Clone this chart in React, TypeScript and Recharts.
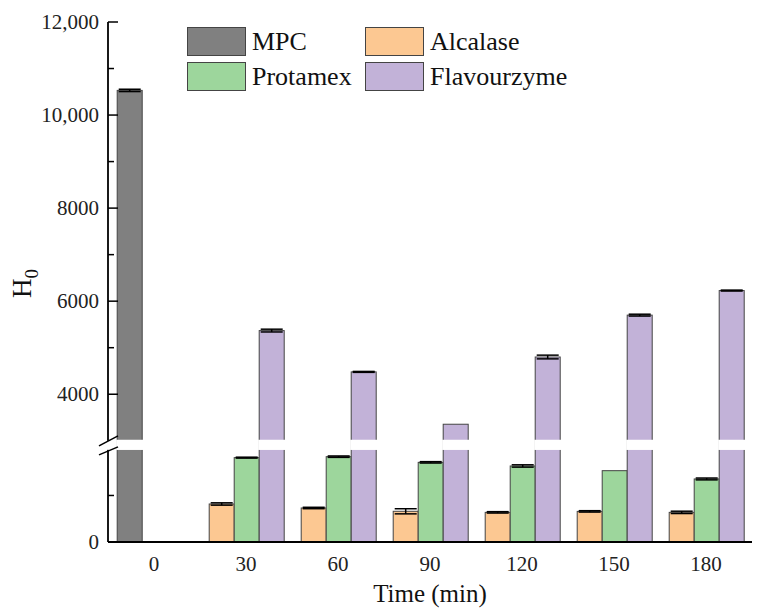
import React from 'react';
import { BarChart, Bar, XAxis, YAxis, Cell, ErrorBar, Legend } from 'recharts';

// hydrolysis time points
const TIMES = ['0', '30', '60', '90', '120', '150', '180'];

// H0 values (null = no bar at that time)
const MPC = [10530, null, null, null, null, null, null];
const MPC_ERR = [25, null, null, null, null, null, null];
const ALCALASE = [null, 817, 731, 660, 637, 658, 637];
const ALCALASE_ERR = [null, 25, 15, 55, 15, 15, 25];
const PROTAMEX = [null, 1813, 1834, 1712, 1634, 1533, 1355];
const PROTAMEX_ERR = [null, 10, 15, 15, 25, 0, 20];
const FLAVOURZYME = [null, 5368, 4480, 3355, 4800, 5700, 6228];
const FLAVOURZYME_ERR = [null, 30, 10, 0, 40, 20, 10];

const MAJOR_TICKS = [0, 4000, 6000, 8000, 10000, 12000];
const MAJOR_LABELS = ['0', '4000', '6000', '8000', '10,000', '12,000'];
const MINOR_TICKS = [1000, 5000, 7000, 9000, 11000];

const COLORS = {
  MPC: '#808080',
  Alcalase: '#FCC892',
  Protamex: '#9DD69C',
  Flavourzyme: '#C2B2D8',
};

// broken y axis: 2000..3000 is cut out and replaced by a small gap
const BREAK_LO = 2000;
const BREAK_HI = 3000;
const GAP = 176;
const toAxis = (v: number | null) =>
  v == null ? null : v >= BREAK_HI ? v - (BREAK_HI - BREAK_LO) + GAP : v;
const BREAK_MID = BREAK_LO + GAP / 2;
const Y_MAX = toAxis(12000) as number;

const FONT = '"Liberation Serif", "Times New Roman", serif';

const data = TIMES.map((t, i) => ({
  time: t,
  first: toAxis(MPC[i] ?? ALCALASE[i]),
  firstErr: MPC_ERR[i] ?? ALCALASE_ERR[i],
  isMpc: MPC[i] != null,
  protamex: toAxis(PROTAMEX[i]),
  protamexErr: PROTAMEX_ERR[i],
  flavourzyme: toAxis(FLAVOURZYME[i]),
  flavourzymeErr: FLAVOURZYME_ERR[i],
}));

const LEGEND_ITEMS = [
  { name: 'MPC', color: COLORS.MPC },
  { name: 'Alcalase', color: COLORS.Alcalase },
  { name: 'Protamex', color: COLORS.Protamex },
  { name: 'Flavourzyme', color: COLORS.Flavourzyme },
];

const yTicks = [...MAJOR_TICKS, ...MINOR_TICKS].map((v) => toAxis(v) as number).concat([BREAK_MID]);

// bar with a white band where the axis is broken
const makeBrokenBar = (key: string) => (props: any) => {
  const { x, y, width, height, fill, payload } = props;
  const val = payload[key];
  if (val == null || !height) return null;
  const base = y + height;
  const k = height / val;
  const yLo = base - BREAK_LO * k;
  const yHi = base - (BREAK_LO + GAP) * k;
  return (
    <g>
      <rect x={x} y={y} width={width} height={height} fill={fill} stroke="#444" strokeWidth={1} />
      {val > BREAK_LO + GAP && (
        <rect x={x - 1} y={yHi - 1} width={width + 2} height={yLo - yHi + 2} fill="#fff" />
      )}
    </g>
  );
};

const YTick = (props: any) => {
  const { x, y, payload } = props;
  const ax = x + 9;
  const v = payload.value;
  if (Math.abs(v - BREAK_MID) < 1) {
    return (
      <g>
        <rect x={ax - 3} y={y - 4} width={6} height={9} fill="#fff" />
        <line x1={ax - 9} y1={y + 1} x2={ax + 10} y2={y - 9} stroke="#000" strokeWidth={1.5} />
        <line x1={ax - 9} y1={y + 10} x2={ax + 10} y2={y + 2} stroke="#000" strokeWidth={1.5} />
      </g>
    );
  }
  const majorIdx = MAJOR_TICKS.findIndex((m) => toAxis(m) === v);
  const isMajor = majorIdx >= 0;
  return (
    <g>
      <line x1={ax} y1={y} x2={ax + (isMajor ? 10 : 6)} y2={y} stroke="#000" strokeWidth={1.5} />
      {isMajor && (
        <text x={x} y={y} dy={7} textAnchor="end" fontFamily={FONT} fontSize={21} fill="#222">
          {MAJOR_LABELS[majorIdx]}
        </text>
      )}
    </g>
  );
};

const XTick = (props: any) => {
  const { x, y, payload } = props;
  return (
    <text x={x} y={y} dy={15} textAnchor="middle" fontFamily={FONT} fontSize={21} fill="#222">
      {payload.value}
    </text>
  );
};

const renderLegend = () => (
  <div
    style={{
      display: 'grid',
      gridTemplateColumns: '178px auto',
      rowGap: 6,
      fontFamily: FONT,
      fontSize: 26,
      color: '#111',
    }}
  >
    {LEGEND_ITEMS.map((it) => (
      <div key={it.name} style={{ display: 'flex', alignItems: 'center', height: 29, lineHeight: '29px' }}>
        <div
          style={{
            width: 57,
            height: 27,
            background: it.color,
            border: '1px solid #444',
            marginRight: 6,
          }}
        />
        <span>{it.name}</span>
      </div>
    ))}
  </div>
);

export default function App() {
  return (
    <div style={{ position: 'absolute', left: 0, top: 0, background: '#fff' }}>
      <BarChart
        width={766}
        height={616}
        data={data}
        margin={{ top: 22, right: 14, bottom: 0, left: 0 }}
        barCategoryGap="10%"
        barGap={0}
      >
        <XAxis
          dataKey="time"
          height={74}
          tickLine={false}
          tickSize={0}
          tickMargin={14}
          axisLine={{ stroke: '#000', strokeWidth: 1.8 }}
          tick={<XTick />}
          label={{
            content: () => (
              <text x={430} y={602} textAnchor="middle" fontFamily={FONT} fontSize={25} fill="#111">
                Time (min)
              </text>
            ),
          }}
        />
        <YAxis
          type="number"
          width={108}
          domain={[0, Y_MAX]}
          ticks={yTicks}
          interval={0}
          tickLine={false}
          tickSize={0}
          tickMargin={9}
          axisLine={{ stroke: '#000', strokeWidth: 1.8 }}
          tick={<YTick />}
          label={{
            content: () => (
              <text
                transform="translate(31, 298) rotate(-90)"
                fontFamily={FONT}
                fontSize={27}
                fill="#111"
              >
                H<tspan fontSize={19} dy={7}>0</tspan>
              </text>
            ),
          }}
        />
        <Legend
          layout="horizontal"
          verticalAlign="middle"
          align="center"
          content={renderLegend}
          wrapperStyle={{ left: 187, top: 27, width: 420, height: 64 }}
        />
        <Bar dataKey="first" isAnimationActive={false} shape={makeBrokenBar('first')}>
          {data.map((d, i) => (
            <Cell key={`c-${i}`} fill={d.isMpc ? COLORS.MPC : COLORS.Alcalase} />
          ))}
          <ErrorBar dataKey="firstErr" width={11} stroke="#000" strokeWidth={1.5} />
        </Bar>
        <Bar
          dataKey="protamex"
          fill={COLORS.Protamex}
          isAnimationActive={false}
          shape={makeBrokenBar('protamex')}
        >
          <ErrorBar dataKey="protamexErr" width={11} stroke="#000" strokeWidth={1.5} />
        </Bar>
        <Bar
          dataKey="flavourzyme"
          fill={COLORS.Flavourzyme}
          isAnimationActive={false}
          shape={makeBrokenBar('flavourzyme')}
        >
          <ErrorBar dataKey="flavourzymeErr" width={11} stroke="#000" strokeWidth={1.5} />
        </Bar>
      </BarChart>
    </div>
  );
}
